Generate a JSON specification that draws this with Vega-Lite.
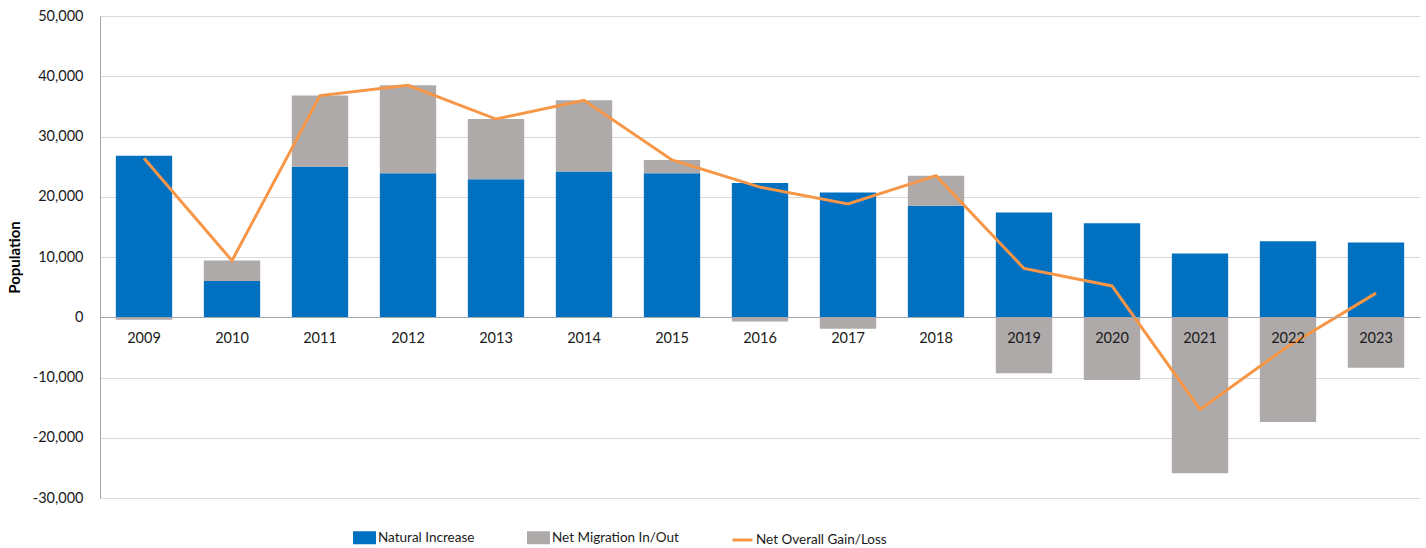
{
  "$schema": "https://vega.github.io/schema/vega-lite/v6.json",
  "width": 1320,
  "height": 482,
  "autosize": {"type": "none"},
  "padding": {"left": 100, "top": 16, "right": 6, "bottom": 50},
  "background": "white",
  "config": {"font": "Lato", "view": {"stroke": null}},
  "data": {
    "values": [
      {"year": "2009", "series": "Natural Increase", "value": 26800},
      {"year": "2009", "series": "Net Migration In/Out", "value": -400},
      {"year": "2009", "series": "Net Overall Gain/Loss", "value": 26400},
      {"year": "2010", "series": "Natural Increase", "value": 6000},
      {"year": "2010", "series": "Net Migration In/Out", "value": 3400},
      {"year": "2010", "series": "Net Overall Gain/Loss", "value": 9400},
      {"year": "2011", "series": "Natural Increase", "value": 25000},
      {"year": "2011", "series": "Net Migration In/Out", "value": 11800},
      {"year": "2011", "series": "Net Overall Gain/Loss", "value": 36800},
      {"year": "2012", "series": "Natural Increase", "value": 23900},
      {"year": "2012", "series": "Net Migration In/Out", "value": 14600},
      {"year": "2012", "series": "Net Overall Gain/Loss", "value": 38500},
      {"year": "2013", "series": "Natural Increase", "value": 22900},
      {"year": "2013", "series": "Net Migration In/Out", "value": 10000},
      {"year": "2013", "series": "Net Overall Gain/Loss", "value": 32900},
      {"year": "2014", "series": "Natural Increase", "value": 24200},
      {"year": "2014", "series": "Net Migration In/Out", "value": 11800},
      {"year": "2014", "series": "Net Overall Gain/Loss", "value": 36000},
      {"year": "2015", "series": "Natural Increase", "value": 23900},
      {"year": "2015", "series": "Net Migration In/Out", "value": 2200},
      {"year": "2015", "series": "Net Overall Gain/Loss", "value": 26100},
      {"year": "2016", "series": "Natural Increase", "value": 22300},
      {"year": "2016", "series": "Net Migration In/Out", "value": -700},
      {"year": "2016", "series": "Net Overall Gain/Loss", "value": 21600},
      {"year": "2017", "series": "Natural Increase", "value": 20700},
      {"year": "2017", "series": "Net Migration In/Out", "value": -1900},
      {"year": "2017", "series": "Net Overall Gain/Loss", "value": 18800},
      {"year": "2018", "series": "Natural Increase", "value": 18500},
      {"year": "2018", "series": "Net Migration In/Out", "value": 5000},
      {"year": "2018", "series": "Net Overall Gain/Loss", "value": 23500},
      {"year": "2019", "series": "Natural Increase", "value": 17400},
      {"year": "2019", "series": "Net Migration In/Out", "value": -9300},
      {"year": "2019", "series": "Net Overall Gain/Loss", "value": 8100},
      {"year": "2020", "series": "Natural Increase", "value": 15600},
      {"year": "2020", "series": "Net Migration In/Out", "value": -10400},
      {"year": "2020", "series": "Net Overall Gain/Loss", "value": 5200},
      {"year": "2021", "series": "Natural Increase", "value": 10600},
      {"year": "2021", "series": "Net Migration In/Out", "value": -25900},
      {"year": "2021", "series": "Net Overall Gain/Loss", "value": -15300},
      {"year": "2022", "series": "Natural Increase", "value": 12600},
      {"year": "2022", "series": "Net Migration In/Out", "value": -17400},
      {"year": "2022", "series": "Net Overall Gain/Loss", "value": -4800},
      {"year": "2023", "series": "Natural Increase", "value": 12400},
      {"year": "2023", "series": "Net Migration In/Out", "value": -8400},
      {"year": "2023", "series": "Net Overall Gain/Loss", "value": 4000}
    ]
  },
  "encoding": {
    "x": {
      "field": "year",
      "type": "ordinal",
      "scale": {"paddingInner": 0.36, "paddingOuter": 0.18},
      "axis": {
        "title": null,
        "orient": "bottom",
        "offset": -181,
        "ticks": false,
        "grid": false,
        "labelAngle": 0,
        "labelPadding": 14,
        "labelFontSize": 14.5,
        "labelColor": "#1a1a1a",
        "domainColor": "#A6A6A6",
        "domainWidth": 1,
        "zindex": 1
      }
    }
  },
  "layer": [
    {
      "transform": [{"filter": "datum.series !== 'Net Overall Gain/Loss'"}],
      "mark": {"type": "bar"},
      "encoding": {
        "y": {
          "field": "value",
          "type": "quantitative",
          "stack": "zero",
          "scale": {"domain": [-30000, 50000], "nice": false, "zero": false},
          "axis": {
            "values": [-30000, -20000, -10000, 0, 10000, 20000, 30000, 40000, 50000],
            "format": ",d",
            "labelExpr": "replace(datum.label, '\u2212', '-')",
            "ticks": false,
            "labelPadding": 17,
            "labelFontSize": 14.5,
            "labelColor": "#1a1a1a",
            "grid": true,
            "gridColor": "#D9D9D9",
            "gridWidth": 1,
            "domainColor": "#A6A6A6",
            "title": "Population",
            "titleFontSize": 15,
            "titleFontWeight": "bold",
            "titleColor": "#000000",
            "titleAngle": -90,
            "titleX": -86,
            "titleY": 241,
            "titleAlign": "center",
            "titleBaseline": "middle"
          }
        },
        "color": {
          "field": "series",
          "type": "nominal",
          "scale": {
            "domain": ["Natural Increase", "Net Migration In/Out", "Net Overall Gain/Loss"],
            "range": ["#0070C0", "#AEAAAA", "#F79646"]
          },
          "legend": {
            "title": null,
            "orient": "none",
            "direction": "horizontal",
            "legendX": 253,
            "legendY": 510,
            "columnPadding": 47,
            "labelFontSize": 13.5,
            "labelColor": "#1a1a1a",
            "labelOffset": 2,
            "symbolSize": 400,
            "encoding": {
              "symbols": {
                "shape": {"value": {"expr": "datum.label === 'Net Overall Gain/Loss' ? 'M-1,0H1' : 'M-1,-0.5H1V0.5H-1Z'"}},
                "fill": {"value": {"expr": "datum.label === 'Net Overall Gain/Loss' ? 'transparent' : (datum.label === 'Natural Increase' ? '#0070C0' : '#AEAAAA')"}},
                "stroke": {"value": {"expr": "datum.label === 'Net Overall Gain/Loss' ? '#F79646' : 'transparent'"}},
                "strokeWidth": {"value": 3},
                "opacity": {"value": 1}
              }
            }
          }
        },
        "order": {"field": "series", "type": "nominal"}
      }
    },
    {
      "transform": [{"filter": "datum.series === 'Net Overall Gain/Loss'"}],
      "mark": {"type": "line", "strokeWidth": 3, "strokeJoin": "miter"},
      "encoding": {
        "y": {"field": "value", "type": "quantitative"},
        "color": {"field": "series", "type": "nominal"}
      }
    }
  ]
}
